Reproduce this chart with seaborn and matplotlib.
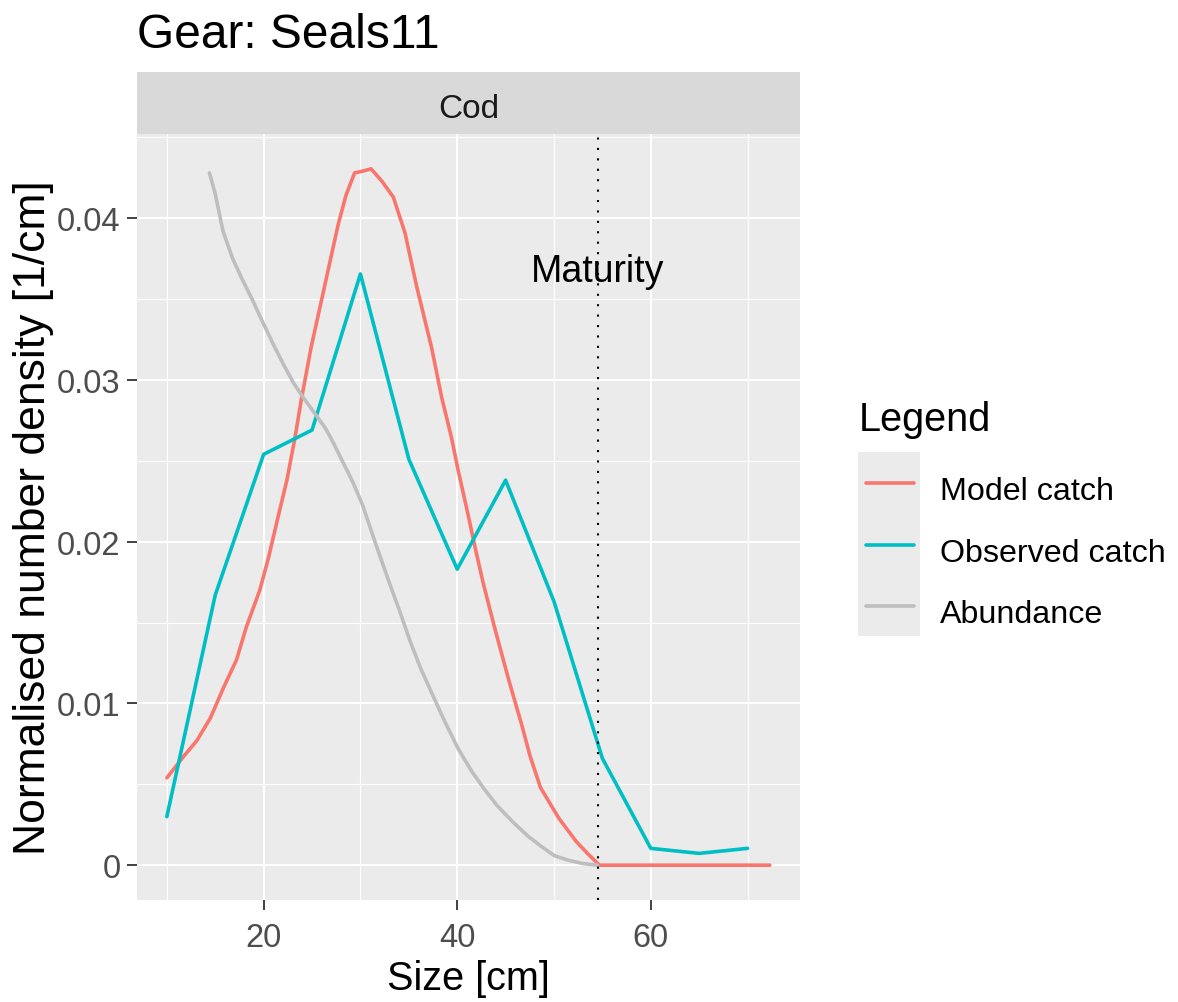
import numpy as np
import pandas as pd
import matplotlib
matplotlib.use("Agg")
import matplotlib.pyplot as plt
from matplotlib.ticker import FixedLocator
from matplotlib.lines import Line2D
from matplotlib.patches import Rectangle
import seaborn as sns

# ---- data ---------------------------------------------------------------
model_size = [10.0, 11.7, 13.1, 14.5, 15.8, 17.2, 18.2, 19.6, 20.5, 21.4, 22.4,
              23.2, 23.9, 24.9, 26.3, 27.7, 28.5, 29.4, 30.2, 31.1, 32.2, 33.4,
              34.6, 35.8, 37.35, 38.4, 39.4, 40.1, 41.0, 41.9, 42.7, 43.9, 45.3,
              46.7, 47.5, 48.6, 50.5, 52.3, 53.5, 54.7, 60.0, 65.0, 70.0, 72.3]
model_catch = [0.0054, 0.0067, 0.0077, 0.0091, 0.0109, 0.0127, 0.0147, 0.0170,
               0.0190, 0.0213, 0.0238, 0.0263, 0.0288, 0.0320, 0.0358, 0.0396,
               0.0414, 0.0428, 0.0429, 0.04305, 0.0423, 0.0413, 0.0391, 0.0358,
               0.0320, 0.0289, 0.02645, 0.0244, 0.0220, 0.0195, 0.0174, 0.0146,
               0.0115, 0.0086, 0.0068, 0.0048, 0.0029, 0.00146, 0.0007, 0.0,
               0.0, 0.0, 0.0, 0.0]

obs_size = [10, 15, 20, 25, 30, 35, 40, 45, 50, 55, 60, 65, 70]
obs_catch = [0.0030, 0.0167, 0.0254, 0.0269, 0.03655, 0.0251, 0.0183, 0.0238,
             0.0163, 0.0066, 0.00104, 0.00073, 0.00104]

abund_size = [14.4, 15.0, 15.8, 16.8, 17.8, 18.8, 19.8, 21.0, 22.1, 23.1, 24.1,
              25.2, 26.4, 27.3, 28.2, 29.2, 30.2, 31.5, 32.9, 34.0, 35.1, 36.2,
              37.4, 38.7, 40.1, 41.5, 42.8, 44.1, 45.7, 47.3, 48.6, 50.0, 51.5,
              53.0, 54.5]
abundance = [0.0428, 0.0415, 0.0392, 0.0375, 0.0362, 0.0350, 0.0337, 0.0322,
             0.0309, 0.0298, 0.0289, 0.0280, 0.0270, 0.0260, 0.0249, 0.0237,
             0.0223, 0.0200, 0.0176, 0.0158, 0.0139, 0.0122, 0.0106, 0.0089,
             0.0072, 0.0058, 0.0047, 0.0037, 0.0027, 0.0018, 0.0012, 0.0006,
             0.0003, 0.0001, 0.0]

series_names = ["Model catch", "Observed catch", "Abundance"]
series_colors = ["#F8766D", "#00BFC4", "#BEBEBE"]
maturity_size = 54.5
species = "Cod"
gear = "Seals11"

df = pd.concat([
    pd.DataFrame({"size": model_size, "density": model_catch, "Legend": series_names[0]}),
    pd.DataFrame({"size": obs_size, "density": obs_catch, "Legend": series_names[1]}),
    pd.DataFrame({"size": abund_size, "density": abundance, "Legend": series_names[2]}),
], ignore_index=True)

# ---- style --------------------------------------------------------------
sns.set_theme(style="darkgrid", rc={
    "axes.facecolor": "#EBEBEB",
    "grid.color": "white",
    "axes.edgecolor": "#EBEBEB",
})
plt.rcParams["font.family"] = ["Liberation Sans", "DejaVu Sans"]

W, H = 1178, 1003
fig = plt.figure(figsize=(W / 100, H / 100), dpi=100)

def fx(px):
    return px / W

def fy(py):
    return 1 - py / H

ax_left, ax_right, ax_top, ax_bot = 136.7, 800, 135, 901
ax = fig.add_axes([fx(ax_left), fy(ax_bot), fx(ax_right - ax_left), (ax_bot - ax_top) / H])

line_w = 2.6
palette = dict(zip(series_names, series_colors))
sns.lineplot(data=df, x="size", y="density", hue="Legend", palette=palette,
             hue_order=series_names, estimator=None, sort=False, linewidth=line_w,
             legend=False, ax=ax)

# 5% expansion on both axes
xmin, xmax = min(model_size), max(model_size)
ymin, ymax = 0.0, max(model_catch)
xr, yr = xmax - xmin, ymax - ymin
ax.set_xlim(xmin - 0.05 * xr, xmax + 0.05 * xr)
ax.set_ylim(ymin - 0.05 * yr, ymax + 0.05 * yr)

ax.xaxis.set_major_locator(FixedLocator([20, 40, 60]))
ax.xaxis.set_minor_locator(FixedLocator([10, 30, 50, 70]))
ax.yaxis.set_major_locator(FixedLocator([0, 0.01, 0.02, 0.03, 0.04]))
ax.yaxis.set_minor_locator(FixedLocator([0.005, 0.015, 0.025, 0.035, 0.045]))
ax.set_yticklabels(["0", "0.01", "0.02", "0.03", "0.04"])
ax.grid(which="major", color="white", linewidth=1.5)
ax.grid(which="minor", color="white", linewidth=0.8)
ax.set_axisbelow(True)
for s in ax.spines.values():
    s.set_visible(False)

ax.tick_params(axis="both", which="major", length=7.5, width=1.3, color="#333333",
               labelsize=23.5, labelcolor="#4D4D4D", bottom=True, left=True)
ax.tick_params(axis="x", which="major", pad=8)
ax.tick_params(axis="y", which="major", pad=4)
ax.tick_params(axis="both", which="minor", length=0)

ax.set_xlabel("Size [cm]", fontsize=28.5, color="black", labelpad=5)
ax.set_ylabel("Normalised number density [1/cm]", fontsize=32, color="black",
              labelpad=2)

# maturity marker
ax.axvline(maturity_size, color="black", linestyle=(0, (1, 4)), linewidth=1.5)
ax.text(maturity_size, 0.0361, "Maturity", ha="center", va="baseline",
        fontsize=27, color="black")

# facet strip
strip = fig.add_axes([fx(ax_left), fy(ax_top), fx(ax_right - ax_left), (ax_top - 73) / H])
strip.set_facecolor("#D9D9D9")
strip.set_xticks([])
strip.set_yticks([])
strip.grid(False)
for s in strip.spines.values():
    s.set_visible(False)
strip.text(0.5, 0.274, species, ha="center", va="baseline", fontsize=24,
           color="#1A1A1A", transform=strip.transAxes)

# title
fig.text(fx(137), fy(48), f"Gear: {gear}", ha="left", va="baseline",
         fontsize=34.5, color="black")

# legend
fig.text(fx(859), fy(431), "Legend", ha="left", va="baseline", fontsize=28.5,
         color="black")
fig.patches.append(Rectangle((fx(858), fy(637)), fx(920 - 858), (637 - 453) / H,
                             transform=fig.transFigure, facecolor="#EBEBEB",
                             edgecolor="none"))
key_y = [484, 545.7, 607]
for name, col, ky in zip(series_names, series_colors, key_y):
    fig.add_artist(Line2D([fx(866), fx(914)], [fy(ky), fy(ky)], color=col,
                          linewidth=line_w, transform=fig.transFigure))
    fig.text(fx(940), fy(ky + 16), name, ha="left", va="baseline",
             fontsize=23.2, color="black")

fig.savefig("out.png", dpi=100)
